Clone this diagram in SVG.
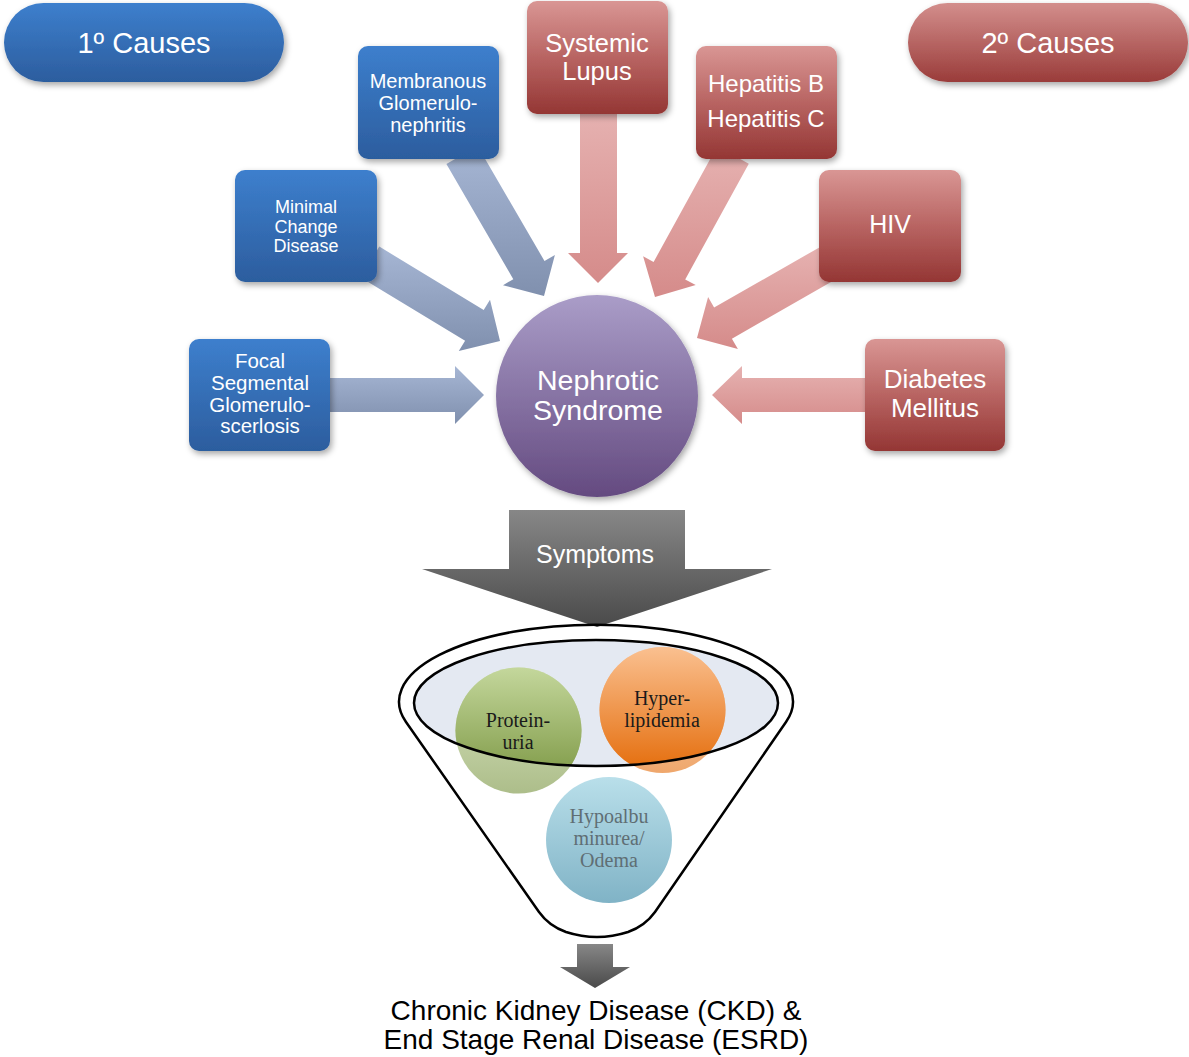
<svg xmlns="http://www.w3.org/2000/svg" width="1189" height="1057" viewBox="0 0 1189 1057">
<defs>
<linearGradient id="gBlue" x1="0" y1="0" x2="0" y2="1"><stop offset="0" stop-color="#3d7fcd"/><stop offset="1" stop-color="#2c5d9e"/></linearGradient>
<linearGradient id="gRed" x1="0" y1="0" x2="0" y2="1"><stop offset="0" stop-color="#d99694"/><stop offset="0.5" stop-color="#b86462"/><stop offset="1" stop-color="#943634"/></linearGradient>
<linearGradient id="gPillR" x1="0" y1="0" x2="0" y2="1"><stop offset="0" stop-color="#d38e8c"/><stop offset="1" stop-color="#9a3c3a"/></linearGradient>
<linearGradient id="gPurple" x1="0" y1="0" x2="0" y2="1"><stop offset="0" stop-color="#aa9dc8"/><stop offset="1" stop-color="#644a80"/></linearGradient>
<linearGradient id="gArrB" x1="0" y1="0" x2="0" y2="1"><stop offset="0" stop-color="#a6b6d4"/><stop offset="1" stop-color="#8090ae"/></linearGradient>
<linearGradient id="gArrR" x1="0" y1="0" x2="0" y2="1"><stop offset="0" stop-color="#e6b2b1"/><stop offset="1" stop-color="#d58b8a"/></linearGradient>
<linearGradient id="gGrey" x1="0" y1="0" x2="0" y2="1"><stop offset="0" stop-color="#878787"/><stop offset="1" stop-color="#4a4a4a"/></linearGradient>
<linearGradient id="gGreen" x1="0" y1="0" x2="0" y2="1"><stop offset="0" stop-color="#c4d79c"/><stop offset="1" stop-color="#76923c"/></linearGradient>
<linearGradient id="gOrange" x1="0" y1="0" x2="0" y2="1"><stop offset="0" stop-color="#fac090"/><stop offset="1" stop-color="#e46c0a"/></linearGradient>
<linearGradient id="gCyan" x1="0" y1="0" x2="0" y2="1"><stop offset="0" stop-color="#b9dfea"/><stop offset="1" stop-color="#80b3c6"/></linearGradient>
<filter id="sh" x="-20%" y="-20%" width="140%" height="150%"><feDropShadow dx="2" dy="3" stdDeviation="3" flood-color="#000" flood-opacity="0.35"/></filter>
<clipPath id="inner"><ellipse cx="596" cy="703" rx="182" ry="63"/></clipPath>
</defs>
<style>
.box{filter:url(#sh)}
.w{fill:#fff;font-family:"Liberation Sans",Arial,sans-serif;text-anchor:middle}
.s{fill:#1a1a1a;font-family:"Liberation Serif","Times New Roman",serif;text-anchor:middle;font-size:20px}
.k{fill:#000;font-family:"Liberation Sans",Arial,sans-serif;text-anchor:middle;font-size:28px}
.line{fill:none;stroke:#000;stroke-width:2.5}
</style>
<g id="connectors">
<polygon fill="url(#gArrB)" points="330,378 455,378 455,366 484,395 455,424 455,412 330,412"/>
<polygon fill="url(#gArrB)" points="360.7,277.4 379.3,246.6 483.7,310 490,299.8 500,341 458.8,351.1 465.1,340.8"/>
<polygon fill="url(#gArrB)" points="446.4,164 477.6,146 544.5,261 554.9,255 544,296 503,285.2 513.3,279.2"/>
<polygon fill="url(#gArrR)" points="580,110 617,110 617,253 628,253 598,283 568,253 580,253"/>
<polygon fill="url(#gArrR)" points="748.8,163.7 717.2,146.3 653.6,262 643.1,256.3 655,297 695.7,285.1 685.2,279.4"/>
<polygon fill="url(#gArrR)" points="838.9,277.6 821.1,246.4 714.1,307.5 708.1,297 697,338 737.9,349.1 731.9,338.7"/>
<polygon fill="url(#gArrR)" points="866,378 742,378 742,366 712,395 742,424 742,412 866,412"/>
<g id="symptoms">
<polygon fill="url(#gGrey)" points="509,510 685,510 685,569 772,569 597,627 422,569 509,569"/>
<text class="w" x="595" y="563" font-size="25">Symptoms</text>
</g>
<polygon fill="url(#gGrey)" points="577,944 613,944 613,967 630,967 595,988 560,967 577,967"/>
</g>
<g id="primary">
<rect class="box" x="4" y="3" width="280" height="79" rx="39.5" fill="url(#gBlue)"/>
<text class="w" x="144" y="53" font-size="29">1º Causes</text>
</g>
<g id="secondary">
<rect class="box" x="908" y="3" width="280" height="79" rx="39.5" fill="url(#gPillR)"/>
<text class="w" x="1048" y="53" font-size="29">2º Causes</text>
</g>
<g id="membranous">
<rect class="box" x="358" y="46" width="141" height="113" rx="10" fill="url(#gBlue)"/>
<text class="w" font-size="20"><tspan x="428" y="88">Membranous</tspan><tspan x="428" y="110">Glomerulo-</tspan><tspan x="428" y="132">nephritis</tspan></text>
</g>
<g id="minimal">
<rect class="box" x="235" y="170" width="142" height="112" rx="10" fill="url(#gBlue)"/>
<text class="w" font-size="18"><tspan x="306" y="213">Minimal</tspan><tspan x="306" y="233">Change</tspan><tspan x="306" y="252">Disease</tspan></text>
</g>
<g id="focal">
<rect class="box" x="189" y="339" width="141" height="112" rx="10" fill="url(#gBlue)"/>
<text class="w" font-size="20.5"><tspan x="260" y="368">Focal</tspan><tspan x="260" y="390">Segmental</tspan><tspan x="260" y="412">Glomerulo-</tspan><tspan x="260" y="433">scerlosis</tspan></text>
</g>
<g id="lupus">
<rect class="box" x="527" y="1" width="141" height="113" rx="10" fill="url(#gRed)"/>
<text class="w" font-size="25.5"><tspan x="597" y="52">Systemic</tspan><tspan x="597" y="80">Lupus</tspan></text>
</g>
<g id="hepatitis">
<rect class="box" x="696" y="46" width="141" height="113" rx="10" fill="url(#gRed)"/>
<text class="w" font-size="24"><tspan x="766" y="92">Hepatitis B</tspan><tspan x="766" y="127">Hepatitis C</tspan></text>
</g>
<g id="hiv">
<rect class="box" x="819" y="170" width="142" height="112" rx="10" fill="url(#gRed)"/>
<text class="w" x="890" y="233" font-size="25">HIV</text>
</g>
<g id="diabetes">
<rect class="box" x="865" y="339" width="140" height="112" rx="10" fill="url(#gRed)"/>
<text class="w" font-size="26"><tspan x="935" y="388">Diabetes</tspan><tspan x="935" y="417">Mellitus</tspan></text>
</g>
<g id="nephrotic">
<circle class="box" cx="597" cy="396" r="101" fill="url(#gPurple)"/>
<text class="w" font-size="28.5"><tspan x="598" y="390">Nephrotic</tspan><tspan x="598" y="420">Syndrome</tspan></text>
</g>
<g id="funnel">
<path class="line" fill="#fff" d="M 406,722 A 197 77 0 1 1 786,722 L 655,912 Q 645,926 628,932 Q 597,942 566,932 Q 549,926 539,912 Z"/>
<ellipse cx="596" cy="703" rx="182" ry="63" fill="#e4e9f2"/>
</g>
<g id="proteinuria">
<circle cx="518.5" cy="730.5" r="63" fill="url(#gGreen)" opacity="0.6"/>
<circle cx="518.5" cy="730.5" r="63" fill="url(#gGreen)" clip-path="url(#inner)"/>
<text class="s"><tspan x="518" y="727">Protein-</tspan><tspan x="518" y="749">uria</tspan></text>
</g>
<g id="hyperlipidemia">
<circle cx="662.5" cy="710" r="63" fill="url(#gOrange)" opacity="0.6"/>
<circle cx="662.5" cy="710" r="63" fill="url(#gOrange)" clip-path="url(#inner)"/>
<text class="s"><tspan x="662" y="705">Hyper-</tspan><tspan x="662" y="727">lipidemia</tspan></text>
</g>
<ellipse class="line" cx="596" cy="703" rx="182" ry="63"/>
<g id="hypoalbuminurea">
<circle cx="609" cy="840" r="63" fill="url(#gCyan)"/>
<text class="s" style="fill:#5f6e74"><tspan x="609" y="823">Hypoalbu</tspan><tspan x="609" y="845">minurea/</tspan><tspan x="609" y="867">Odema</tspan></text>
</g>
<g id="outcome">
<text class="k"><tspan x="596" y="1020">Chronic Kidney Disease (CKD) &amp;</tspan><tspan x="596" y="1049">End Stage Renal Disease (ESRD)</tspan></text>
</g>
</svg>
